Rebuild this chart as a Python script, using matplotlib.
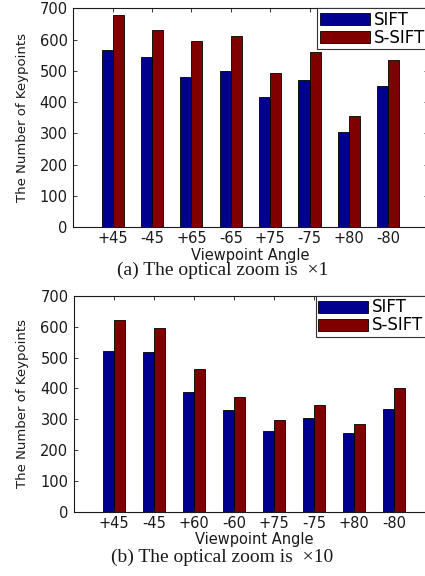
# Two grouped bar charts comparing the number of keypoints
# found by SIFT and S-SIFT at different viewpoint angles

import matplotlib.pyplot as plt
import numpy as np

# Data for panel (a), optical zoom x1
angles_a = ['+45', '-45', '+65', '-65', '+75', '-75', '+80', '-80']
sift_a = [568, 543, 481, 500, 417, 469, 303, 451]
ssift_a = [680, 632, 595, 610, 492, 560, 355, 536]

# Data for panel (b), optical zoom x10
angles_b = ['+45', '-45', '+60', '-60', '+75', '-75', '+80', '-80']
sift_b = [523, 518, 389, 330, 261, 305, 256, 332]
ssift_b = [622, 597, 462, 371, 296, 347, 283, 403]

y_ticks = [0, 100, 200, 300, 400, 500, 600, 700]
series_names = ['SIFT', 'S-SIFT']

# Colours (MATLAB jet ends)
blue = '#00008f'
red = '#800000'
ink = '#1a1a1a'


# Draw one grouped bar panel
def draw_panel(ax, angles, sift, ssift, caption, cap_y, leg_x):
    x = np.arange(1, len(angles) + 1)
    w = 0.28

    ax.bar(x - w / 2, sift, w, color=blue, edgecolor='black', linewidth=0.6,
           label=series_names[0])
    ax.bar(x + w / 2, ssift, w, color=red, edgecolor='black', linewidth=0.6,
           label=series_names[1])

    ax.set_xlim(0, len(angles) + 1)
    ax.set_ylim(0, 700)
    ax.set_xticks(x)
    ax.set_xticklabels(angles)
    ax.set_yticks(y_ticks)

    # Inward ticks on all sides, like MATLAB
    ax.tick_params(direction='in', length=3, width=0.6, colors=ink,
                   top=True, right=True, labelsize=10.5)
    ax.tick_params(axis='x', pad=3)
    ax.tick_params(axis='y', pad=4)
    for s in ax.spines.values():
        s.set_linewidth(0.8)
        s.set_color(ink)

    ax.set_xlabel('Viewpoint Angle', fontsize=10.5, color=ink)
    ax.set_ylabel('The Number of Keypoints', fontsize=9.5, color=ink)
    ax.xaxis.set_label_coords(0.5, -0.095)
    ax.yaxis.set_label_coords(-0.125, 0.5)

    leg = ax.legend(loc='upper right', bbox_to_anchor=(leg_x, 1),
                    borderaxespad=0, fontsize=12, fancybox=False,
                    framealpha=1, handlelength=3.0, handleheight=0.75,
                    handletextpad=0.25, labelspacing=0.0, borderpad=0.15)
    leg.get_frame().set_edgecolor('#333333')
    leg.get_frame().set_linewidth(0.8)

    # Caption under the panel
    fig.text(222.5 / 425, cap_y, caption, ha='center', va='center',
             family='Liberation Serif', fontsize=14, color=ink)


fig = plt.figure(figsize=(4.25, 5.76), dpi=100)

ax_a = fig.add_axes([73.3 / 425, (576 - 227) / 576, 354.3 / 425, 218.7 / 576])
ax_b = fig.add_axes([74 / 425, (576 - 511.7) / 576, 360 / 425, 215.7 / 576])

draw_panel(ax_a, angles_a, sift_a, ssift_a,
           '(a) The optical zoom is  \u00d71', 1 - 270 / 576, 1.0)
draw_panel(ax_b, angles_b, sift_b, ssift_b,
           '(b) The optical zoom is  \u00d710', 1 - 557 / 576, 0.978)

fig.savefig('out.png', dpi=100)
